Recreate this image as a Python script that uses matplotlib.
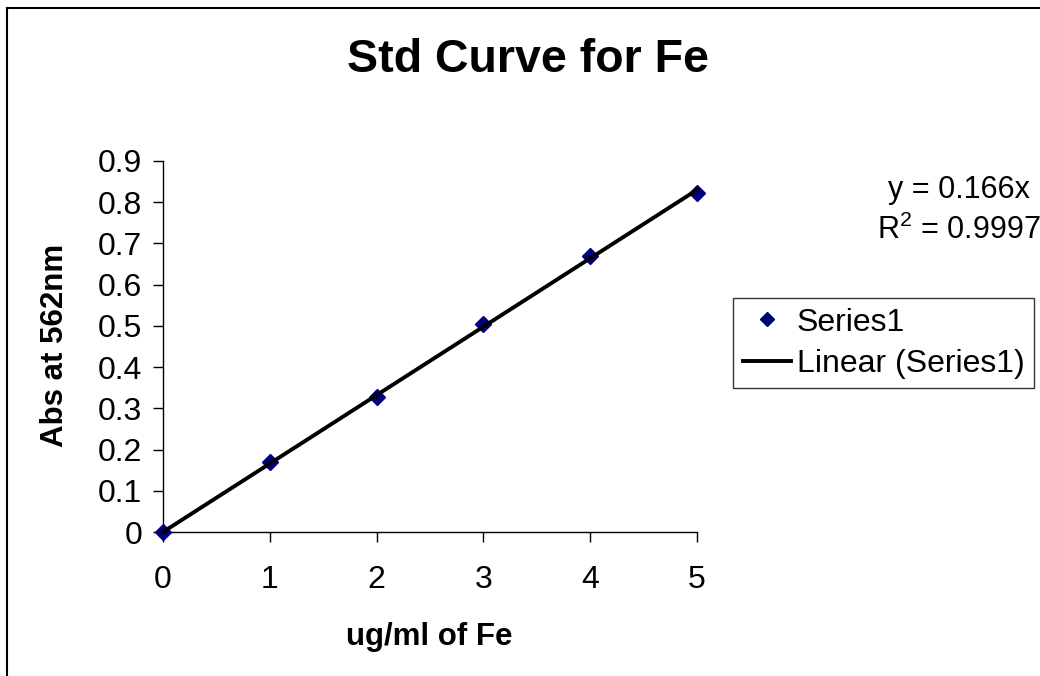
import matplotlib
matplotlib.use("Agg")
import matplotlib.pyplot as plt
from matplotlib.lines import Line2D

# data
conc = [0, 1, 2, 3, 4, 5]
absorb = [0.0, 0.17, 0.328, 0.505, 0.669, 0.822]
slope = 0.166
r2 = 0.9997
yticks = [0, 0.1, 0.2, 0.3, 0.4, 0.5, 0.6, 0.7, 0.8, 0.9]
ytick_labels = ["0", "0.1", "0.2", "0.3", "0.4", "0.5", "0.6", "0.7", "0.8", "0.9"]

plt.rcParams["font.family"] = ["Liberation Sans", "DejaVu Sans"]
plt.rcParams["mathtext.fontset"] = "custom"
plt.rcParams["mathtext.rm"] = "Liberation Sans"

W, H = 1040, 676
fig = plt.figure(figsize=(W / 100, H / 100), dpi=100)
ax = fig.add_axes([163 / W, 1 - 532 / H, 534 / W, 371 / H])

ax.plot(conc, absorb, linestyle="none", marker="D", markersize=8,
        color="#000080", label="Series1", zorder=3, clip_on=False)
fit_x = [conc[0], conc[-1]]
fit_y = [slope * v for v in fit_x]
ax.plot(fit_x, fit_y, color="black", linewidth=2.8, label="Linear (Series1)",
        zorder=4, clip_on=False)

ax.set_xlim(0, 5)
ax.set_ylim(0, 0.9)
ax.set_xticks(conc)
ax.set_yticks(yticks)
ax.set_yticklabels(ytick_labels)
ax.spines["top"].set_visible(False)
ax.spines["right"].set_visible(False)
for s in ("left", "bottom"):
    ax.spines[s].set_linewidth(1.0)
    ax.spines[s].set_color("black")
ax.tick_params(axis="y", direction="out", length=7, width=1, labelsize=23, pad=8)
ax.tick_params(axis="x", direction="out", length=7, width=1, labelsize=23, pad=17)

fig.text(528 / W, 1 - 60 / H, "Std Curve for Fe", ha="center", va="center",
         fontsize=33.5, fontweight="bold")
fig.text(429 / W, 1 - 637 / H, "ug/ml of Fe", ha="center", va="center",
         fontsize=22.5, fontweight="bold")
fig.text(55 / W, 1 - 345 / H, "Abs at 562nm", ha="center", va="center",
         fontsize=22.5, fontweight="bold", rotation=90)

fig.text(959 / W, 1 - 190 / H, "y = %.3fx" % slope, ha="center", va="center",
         fontsize=22)
fig.text(959 / W, 1 - 230 / H, r"R$^2$ = %.4f" % r2, ha="center", va="center",
         fontsize=22)

leg = fig.legend(loc="upper left", bbox_to_anchor=(733 / W, 1 - 298 / H),
                 fontsize=23, frameon=True, fancybox=False, edgecolor="black",
                 handlelength=1.5, handletextpad=0.2, labelspacing=0.35,
                 borderpad=0.3, borderaxespad=0, markerscale=0.9)
leg.get_frame().set_linewidth(1.0)

# outer chart frame (top and left edges visible)
fig.add_artist(Line2D([7 / W, 7 / W], [0, 1 - 8 / H], color="black", linewidth=1.5,
                      transform=fig.transFigure))
fig.add_artist(Line2D([7 / W, 1], [1 - 8 / H, 1 - 8 / H], color="black", linewidth=1.5,
                      transform=fig.transFigure))

fig.savefig("out.png", dpi=100)
